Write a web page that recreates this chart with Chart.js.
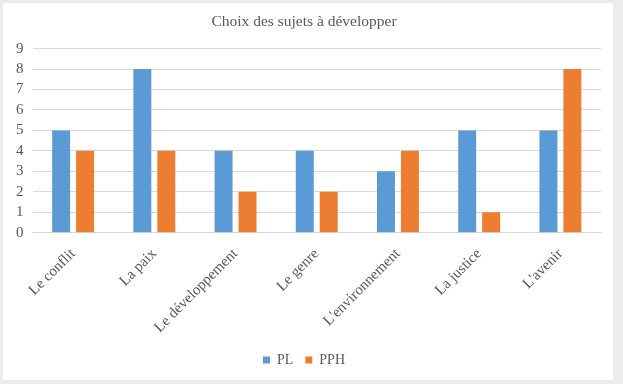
<!DOCTYPE html>
<html>
<head>
<meta charset="utf-8">
<script src="https://cdn.jsdelivr.net/npm/chart.js@4.4.0/dist/chart.umd.min.js"></script>
<style>
  html, body { margin: 0; padding: 0; background: #ececec; }
  #box { position: absolute; left: 3px; top: 3px; width: 610px; height: 377px; background: #fff; }
</style>
</head>
<body>
<div id="box"><canvas id="graf"></canvas></div>
<script>
let categories = ["Le conflit", "La paix", "Le développement", "Le genre", "L'environnement", "La justice", "L'avenir"];
let valoresPL = [5, 8, 4, 4, 3, 5, 5];
let valoresPPH = [4, 4, 2, 2, 4, 1, 8];
let yMin = 0;
let yMax = 9;
let yStep = 1;

let gris = "#595959";
let fuente = "'Liberation Serif', 'Times New Roman', serif";

let ctx = document.getElementById("graf").getContext("2d");
let myChart = new Chart(ctx, {
    type: "bar",
    data: {
        labels: categories,
        datasets: [
            { label: "PL", data: valoresPL, backgroundColor: "#5B9BD5", barPercentage: 0.75, categoryPercentage: 0.59 },
            { label: "PPH", data: valoresPPH, backgroundColor: "#ED7D31", barPercentage: 0.75, categoryPercentage: 0.59 }
        ]
    },
    options: {
        responsive: true,
        maintainAspectRatio: false,
        animation: false,
        layout: { padding: { left: 4, right: 12, top: 6, bottom: 3 } },
        plugins: {
            title: {
                display: true,
                text: "Choix des sujets à développer",
                color: gris,
                font: { family: fuente, size: 15.5, weight: "normal" },
                padding: { top: 4, bottom: 17 }
            },
            legend: {
                position: "bottom",
                labels: {
                    color: gris,
                    font: { family: fuente, size: 14 },
                    boxWidth: 7,
                    boxHeight: 7,
                    padding: 12
                }
            },
            tooltip: { enabled: false }
        },
        scales: {
            x: {
                grid: { display: false },
                border: { display: true, color: "#d9d9d9" },
                ticks: {
                    color: gris,
                    font: { family: fuente, size: 15 },
                    maxRotation: 45,
                    minRotation: 45,
                    padding: 4.5
                }
            },
            y: {
                min: yMin,
                max: yMax,
                grid: { color: "#d9d9d9", drawTicks: false },
                border: { display: false },
                ticks: {
                    stepSize: yStep,
                    autoSkip: false,
                    color: gris,
                    font: { family: fuente, size: 15 },
                    padding: 9
                }
            }
        }
    }
});
</script>
</body>
</html>
